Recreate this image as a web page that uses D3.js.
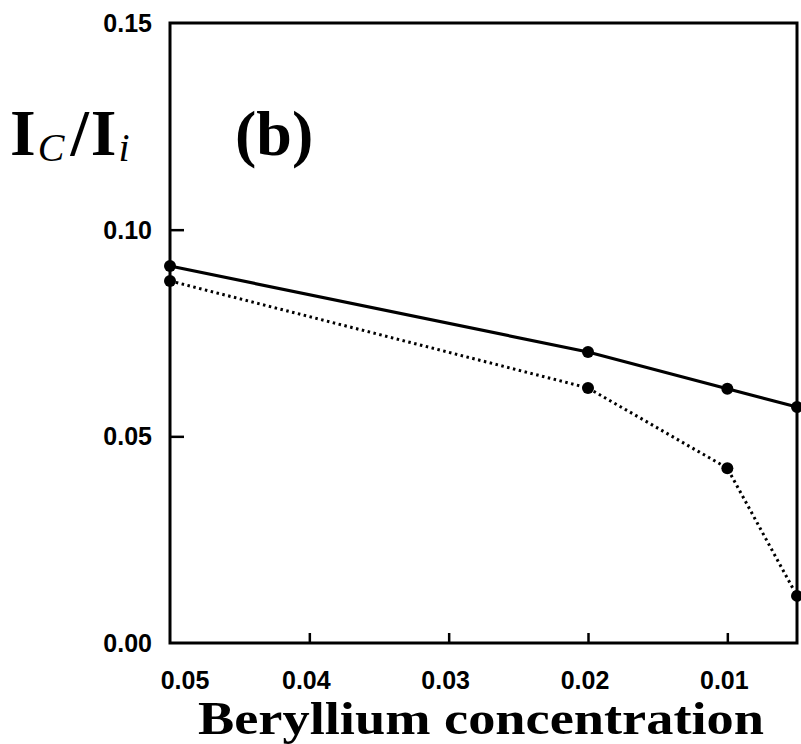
<!DOCTYPE html>
<html>
<head>
<meta charset="utf-8">
<script src="https://cdn.jsdelivr.net/npm/d3@7/dist/d3.min.js"></script>
<style>
  body { margin: 0; background: #fff; }
  svg { display: block; }
</style>
</head>
<body>
<div id="chart"></div>
<script>
// data
const concentration = [0.05, 0.02, 0.01, 0.005];
const solidRatio = [0.0912, 0.0704, 0.0615, 0.0571];
const dottedRatio = [0.0876, 0.0617, 0.0423, 0.0114];
const xTicks = [0.05, 0.04, 0.03, 0.02, 0.01];
const yTicks = [0.00, 0.05, 0.10, 0.15];

var w = 801;
var h = 744;

var svg = d3.select("#chart")
    .append("svg")
    .attr("width", w)
    .attr("height", h);

// axis is reversed, high concentration on the left
var x = d3.scaleLinear().domain([0.05, 0.005]).range([170, 797]);
var y = d3.scaleLinear().domain([0, 0.15]).range([643, 23]);

var tickFont = "'Liberation Sans', Arial, sans-serif";
var serif = "'Liberation Serif', 'DejaVu Serif', serif";

// frame
svg.append("rect")
    .attr("x", x(0.05))
    .attr("y", y(0.15))
    .attr("width", x(0.005) - x(0.05))
    .attr("height", y(0) - y(0.15))
    .style("fill", "none")
    .style("stroke", "#000")
    .style("stroke-width", 3);

// y axis, ticks pointing inward
var yAxis = d3.axisRight(y)
    .tickValues(yTicks.filter(d => d > 0 && d < 0.15))
    .tickSize(14)
    .tickFormat("");
svg.append("g")
    .attr("transform", "translate(" + x(0.05) + ",0)")
    .call(yAxis)
    .call(g => g.select(".domain").remove())
    .call(g => g.selectAll("line").style("stroke-width", 2.5));

svg.append("g")
    .selectAll("text")
    .data(yTicks)
    .enter()
    .append("text")
    .attr("x", 152)
    .attr("y", d => y(d) + 9)
    .attr("text-anchor", "end")
    .style("font-family", tickFont)
    .style("font-weight", "bold")
    .style("font-size", "25px")
    .text(d => d3.format(".2f")(d));

// x axis, ticks pointing up
var xAxis = d3.axisTop(x)
    .tickValues(xTicks.filter(d => d < 0.05))
    .tickSize(10)
    .tickFormat("");
svg.append("g")
    .attr("transform", "translate(0," + y(0) + ")")
    .call(xAxis)
    .call(g => g.select(".domain").remove())
    .call(g => g.selectAll("line").style("stroke-width", 2.5));

svg.append("g")
    .selectAll("text")
    .data(xTicks)
    .enter()
    .append("text")
    .attr("x", d => x(d) + (d === 0.05 ? 15 : -3))
    .attr("y", 689)
    .attr("text-anchor", "middle")
    .style("font-family", tickFont)
    .style("font-weight", "bold")
    .style("font-size", "25px")
    .text(d => d3.format(".2f")(d));

// lines
var pts = (vals) => concentration.map((c, i) => [c, vals[i]]);

var line = d3.line()
    .x(d => x(d[0]))
    .y(d => y(d[1]));

svg.append("path")
    .attr("d", line(pts(solidRatio)))
    .style("fill", "none")
    .style("stroke", "#000")
    .style("stroke-width", 3.2);

svg.append("path")
    .attr("d", line(pts(dottedRatio)))
    .style("fill", "none")
    .style("stroke", "#000")
    .style("stroke-width", 3)
    .style("stroke-dasharray", "2.5,3.5");

[solidRatio, dottedRatio].forEach(function (vals) {
    svg.append("g")
        .selectAll("circle")
        .data(pts(vals))
        .enter()
        .append("circle")
        .attr("cx", d => x(d[0]))
        .attr("cy", d => y(d[1]))
        .attr("r", 6)
        .style("fill", "#000");
});

// y label I_C / I_i
var yl = svg.append("text")
    .attr("x", 10)
    .attr("y", 155)
    .style("font-family", serif)
    .style("font-weight", "bold")
    .style("font-size", "66px");
yl.append("tspan").text("I");
yl.append("tspan").attr("dy", 6).attr("dx", 2).style("font-size", "40px").style("font-style", "italic").style("font-weight", "normal").text("C");
yl.append("tspan").attr("dy", -6).attr("dx", 6).text("/");
yl.append("tspan").attr("dx", 2).text("I");
yl.append("tspan").attr("dy", 6).attr("dx", 2).style("font-size", "40px").style("font-style", "italic").style("font-weight", "normal").text("i");

// panel tag
svg.append("text")
    .attr("x", 235)
    .attr("y", 155)
    .style("font-family", serif)
    .style("font-weight", "bold")
    .style("font-size", "64px")
    .text("(b)");

// x title
var xt = svg.append("text")
    .attr("x", 481)
    .attr("y", 734)
    .attr("text-anchor", "middle")
    .style("font-family", serif)
    .style("font-weight", "bold")
    .style("font-size", "46px")
    .text("Beryllium concentration");
xt.attr("textLength", 566).attr("lengthAdjust", "spacingAndGlyphs");
</script>
</body>
</html>
